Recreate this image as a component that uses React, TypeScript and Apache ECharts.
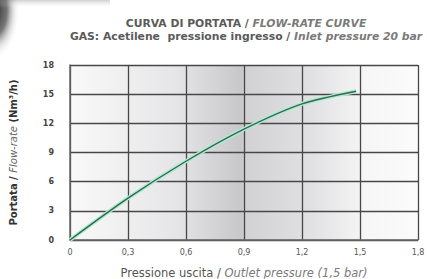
import React, { useEffect, useRef } from "react";
import * as echarts from "echarts";

const xValues = [0, 0.3, 0.6, 0.9, 1.2, 1.48];
const yValues = [0, 4.3, 8.1, 11.4, 14.0, 15.3];
const xTicks = ["0", "0,3", "0,6", "0,9", "1,2", "1,5", "1,8"];

export default function App() {
  const ref = useRef<HTMLDivElement>(null);
  useEffect(() => {
    document.body.style.margin = "0";
    const chart = echarts.init(ref.current!, null, { renderer: "svg" });
    const data = xValues.map((x, i) => [x, yValues[i]]);
    const font = "DejaVu Sans";
    chart.setOption({
      animation: false,
      backgroundColor: "#ffffff",
      title: {
        left: 241,
        top: 12,
        textAlign: "center",
        text: "{a|CURVA DI PORTATA / }{b|FLOW-RATE CURVE}\n{a|GAS: Acetilene  pressione ingresso / }{b|Inlet pressure 20 bar}",
        textStyle: {
          rich: {
            a: { fontFamily: font, fontSize: 10.8, color: "#5a5a5a", lineHeight: 13 },
            b: { fontFamily: font, fontSize: 10.8, color: "#7a7a7a", fontStyle: "italic", lineHeight: 13 },
          },
        },
      },
      graphic: [
        {
          type: "ellipse",
          shape: { cx: -6, cy: 10, rx: 26, ry: 50 },
          style: {
            fill: new echarts.graphic.RadialGradient(0.5, 0.5, 0.5, [
              { offset: 0, color: "rgba(30,30,30,0.95)" },
              { offset: 0.5, color: "rgba(60,60,60,0.7)" },
              { offset: 0.75, color: "rgba(160,160,160,0.3)" },
              { offset: 1, color: "rgba(255,255,255,0)" },
            ]),
          },
          silent: true,
        },
        {
          type: "rect",
          shape: { x: 0, y: 0, width: 110, height: 8 },
          style: {
            fill: new echarts.graphic.LinearGradient(0, 0, 0, 1, [
              { offset: 0, color: "rgba(120,120,120,0.35)" },
              { offset: 1, color: "rgba(255,255,255,0)" },
            ]),
          },
          silent: true,
        },
      ],
      grid: {
        left: 70,
        right: 9,
        top: 65,
        bottom: 39,
        outerBoundsMode: "none",
        containLabel: false,
        show: true,
        borderWidth: 0,
        backgroundColor: new echarts.graphic.LinearGradient(0, 0, 1, 0, [
          { offset: 0, color: "#f9f9f9" },
          { offset: 0.3, color: "#e6e6e8" },
          { offset: 0.49, color: "#c8c8cb" },
          { offset: 0.51, color: "#d2d2d4" },
          { offset: 0.7, color: "#e2e2e4" },
          { offset: 0.85, color: "#f6f6f6" },
          { offset: 1, color: "#fbfbfb" },
        ]),
      },
      xAxis: {
        type: "value",
        min: 0,
        max: 1.8,
        interval: 0.3,
        name: "{a|Pressione uscita / }{b|Outlet pressure (1,5 bar)}",
        nameLocation: "middle",
        nameGap: 27,
        nameTextStyle: {
          rich: {
            a: { fontFamily: font, fontSize: 11.5, color: "#555" },
            b: { fontFamily: font, fontSize: 11.5, color: "#7a7a7a", fontStyle: "italic" },
          },
        },
        axisLine: { show: true, lineStyle: { color: "#666", width: 1.5 } },
        axisTick: { show: false },
        splitLine: { show: true, lineStyle: { color: "#474747", width: 1.3 } },
        axisLabel: {
          fontFamily: font,
          fontSize: 8,
          color: "#555",
          margin: 8,
          formatter: (v: number) => xTicks[Math.round(v / 0.3)] ?? "",
        },
      },
      yAxis: {
        type: "value",
        min: 0,
        max: 18,
        interval: 3,
        name: "{a|Portata / }{b|Flow-rate}{a| (Nm³/h)}",
        nameLocation: "middle",
        nameGap: 52,
        nameTextStyle: {
          rich: {
            a: { fontFamily: font, fontSize: 10, color: "#333", fontWeight: "bold" },
            b: { fontFamily: font, fontSize: 10, color: "#666", fontStyle: "italic" },
          },
        },
        axisLine: { show: true, lineStyle: { color: "#666", width: 1.5 } },
        axisTick: { show: false },
        splitLine: { show: true, lineStyle: { color: "#474747", width: 1.3 } },
        axisLabel: { fontFamily: font, fontSize: 8, color: "#444", margin: 16, fontWeight: "bold" },
      },
      series: [
        {
          type: "line",
          data,
          smooth: 0.3,
          symbol: "none",
          silent: true,
          lineStyle: { color: "#b2ead0", width: 4 },
        },
        {
          type: "line",
          data,
          smooth: 0.3,
          symbol: "none",
          silent: true,
          lineStyle: { color: "#2e6b52", width: 1.4 },
        },
      ],
    });
    return () => chart.dispose();
  }, []);
  return (
    <div
      ref={ref}
      style={{ position: "fixed", left: 0, top: 0, width: 427, height: 279 }}
    />
  );
}
